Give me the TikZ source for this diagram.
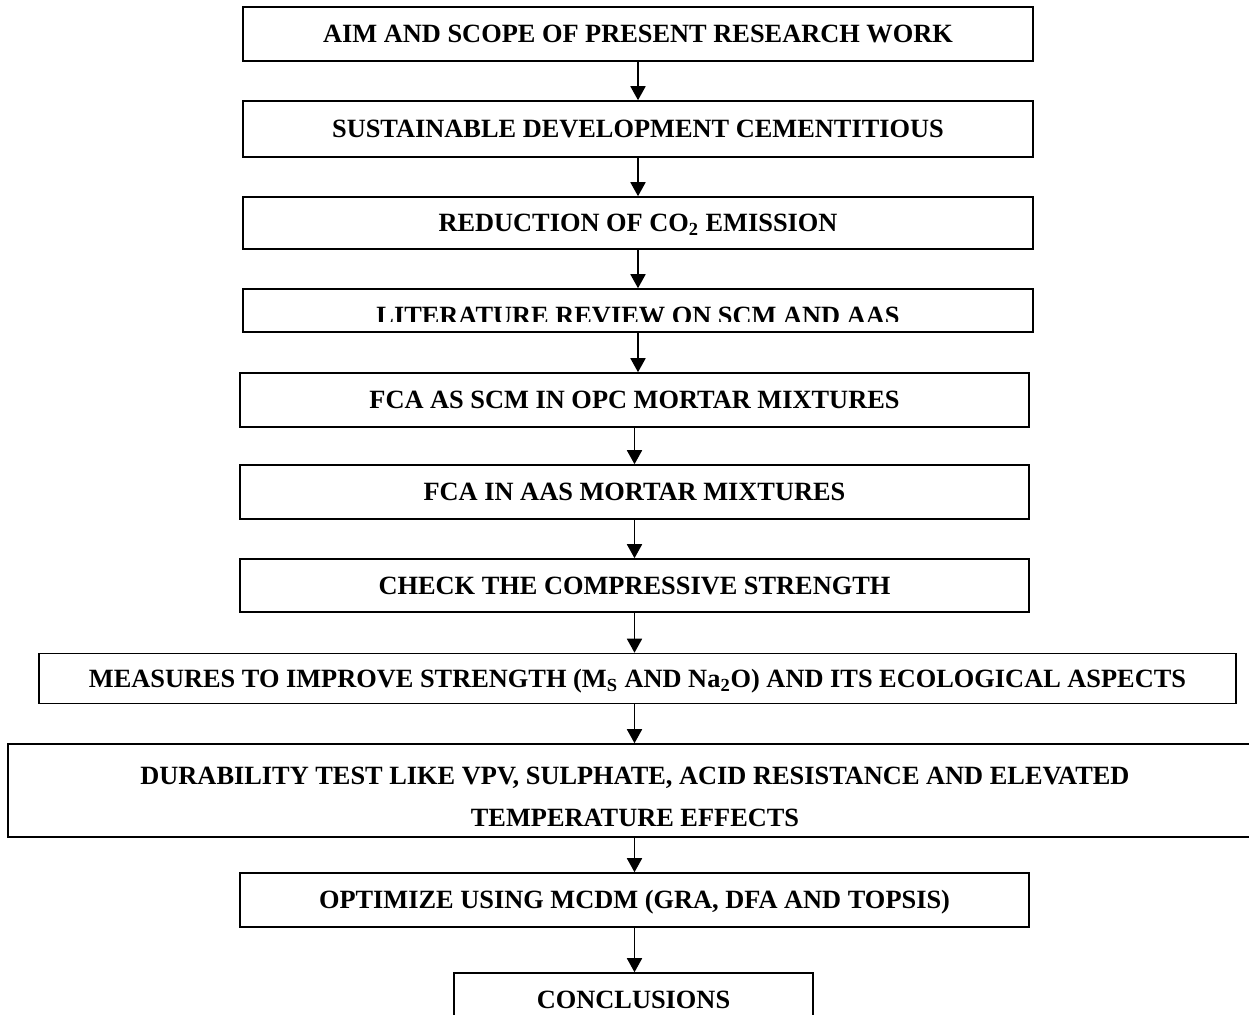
\documentclass[tikz,border=0pt]{standalone}
\usepackage{fontspec}
\setmainfont{Liberation Serif}
\usepackage{tikz}
\usetikzlibrary{arrows.meta, positioning}

\begin{document}
\begin{tikzpicture}[
    stepbox/.style={draw, line width=0.9pt, fill=white, font=\bfseries\fontsize{15}{24}\selectfont,
        text height=9.9pt, text depth=0pt, inner sep=0pt, minimum height=1.08cm},
    flow/.style={-{Triangle[length=0.28cm, width=0.3cm]}, line width=1pt}
]
    \useasboundingbox (0,0) rectangle (24.98,-20.28);

    % Boxes of the flow
    \node[stepbox, minimum width=15.8cm] (aim) at (12.76,-0.68) {AIM AND SCOPE OF PRESENT RESEARCH WORK};
    \node[stepbox, minimum width=15.8cm, minimum height=1.12cm] (sustain) at (12.76,-2.58) {SUSTAINABLE DEVELOPMENT CEMENTITIOUS};
    \node[stepbox, minimum width=15.8cm, minimum height=1.04cm] (co2) at (12.76,-4.46) {REDUCTION OF CO\textsubscript{2} EMISSION};
    \node[stepbox, minimum width=15.8cm, minimum height=0.86cm] (lit) at (12.76,-6.21) {};
    \begin{scope}
        \clip (4.86,-5.8) rectangle (20.66,-6.42);
        \node[font=\bfseries\fontsize{15}{18}\selectfont, text height=9.9pt, text depth=0pt, inner sep=0pt] (littext) at (12.76,-6.31) {LITERATURE REVIEW ON SCM AND AAS};
    \end{scope}
    \node[stepbox, minimum width=15.78cm] (fcaopc) at (12.69,-8.0) {FCA AS SCM IN OPC MORTAR MIXTURES};
    \node[stepbox, minimum width=15.78cm] (fcaaas) at (12.69,-9.84) {FCA IN AAS MORTAR MIXTURES};
    \node[stepbox, minimum width=15.78cm, minimum height=1.06cm] (check) at (12.69,-11.71) {CHECK THE COMPRESSIVE STRENGTH};
    \node[stepbox, minimum width=23.94cm, minimum height=1.0cm] (measures) at (12.75,-13.57) {MEASURES TO IMPROVE STRENGTH (M\textsubscript{S} AND Na\textsubscript{2}O) AND ITS ECOLOGICAL ASPECTS};
    \node[stepbox, minimum width=25.08cm, minimum height=1.86cm, align=center, text height=, text depth=] (durab) at (12.70,-15.81) {\rule{0pt}{17pt}DURABILITY TEST LIKE VPV, SULPHATE, ACID RESISTANCE AND ELEVATED\\TEMPERATURE EFFECTS};
    \node[stepbox, minimum width=15.78cm] (optim) at (12.69,-18.0) {OPTIMIZE USING MCDM (GRA, DFA AND TOPSIS)};
    \node[stepbox, minimum width=7.18cm] (concl) at (12.67,-20.0) {CONCLUSIONS};

    % Arrows
    \draw[flow] (aim.south) -- (aim.south |- sustain.north);
    \draw[flow] (sustain.south) -- (sustain.south |- co2.north);
    \draw[flow] (co2.south) -- (co2.south |- lit.north);
    \draw[flow] (lit.south) -- (lit.south |- fcaopc.north);
    \draw[flow] (fcaopc.south) -- (fcaopc.south |- fcaaas.north);
    \draw[flow] (fcaaas.south) -- (fcaaas.south |- check.north);
    \draw[flow] (check.south) -- (check.south |- measures.north);
    \draw[flow] (check.south |- measures.south) -- (check.south |- durab.north);
    \draw[flow] (optim.north |- durab.south) -- (optim.north);
    \draw[flow] (optim.south) -- (optim.south |- concl.north);
\end{tikzpicture}
\end{document}
